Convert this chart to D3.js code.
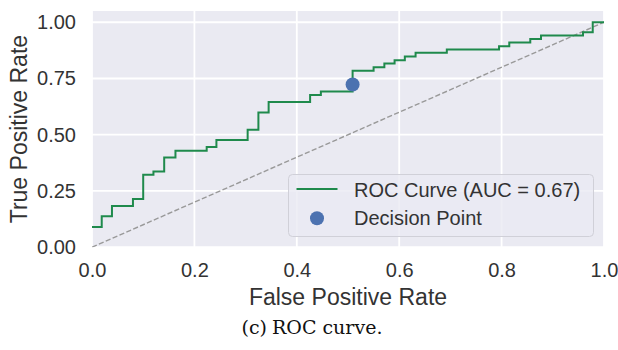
<!DOCTYPE html>
<html>
<head>
<meta charset="utf-8">
<script src="https://cdn.jsdelivr.net/npm/d3@7"></script>
<style>
  body { margin: 0; background: #fff; }
  text { font-family: "Liberation Sans", Arial, sans-serif; fill: #333; }
</style>
</head>
<body>
<div id="chart"></div>
<script>
// ROC step points
var fpr = [0, 0.019, 0.039, 0.080, 0.100, 0.120, 0.141, 0.163, 0.224, 0.243,
           0.304, 0.325, 0.345, 0.426, 0.447, 0.509, 0.550, 0.571, 0.591, 0.611,
           0.632, 0.693, 0.795, 0.815, 0.856, 0.877, 0.959, 0.978, 1.0];
var tpr = [0.090, 0.138, 0.183, 0.214, 0.322, 0.337, 0.399, 0.429, 0.445, 0.476,
           0.522, 0.599, 0.646, 0.677, 0.692, 0.784, 0.800, 0.817, 0.831, 0.848,
           0.864, 0.879, 0.893, 0.910, 0.925, 0.941, 0.956, 1.0, 1.0];
var decisionPoint = [0.509, 0.723];
var chance = [0, 1];
var xTicks = [0, 0.2, 0.4, 0.6, 0.8, 1.0];
var yTicks = [0, 0.25, 0.5, 0.75, 1.0];
var aucLabel = "ROC Curve (AUC = 0.67)";
var pointLabel = "Decision Point";

var W = 618, H = 350;
var pLeft = 92, pRight = 604, pTop = 11, pBottom = 247.2;

var svg = d3.select("#chart").append("svg")
  .attr("width", W).attr("height", H);

var x = d3.scaleLinear().domain([0, 1]).range([pLeft, pRight]);
var y = d3.scaleLinear().domain([0, 1.05]).range([pBottom, pTop]);

// background
svg.append("rect")
  .attr("x", pLeft).attr("y", pTop)
  .attr("width", pRight - pLeft).attr("height", pBottom - pTop)
  .style("fill", "#eaeaf2");

// grid
svg.append("g").selectAll("line").data(xTicks).enter().append("line")
  .attr("x1", d => x(d)).attr("x2", d => x(d))
  .attr("y1", pTop).attr("y2", pBottom)
  .style("stroke", "#fff").style("stroke-width", 1.8);
svg.append("g").selectAll("line").data(yTicks).enter().append("line")
  .attr("x1", pLeft).attr("x2", pRight)
  .attr("y1", d => y(d)).attr("y2", d => y(d))
  .style("stroke", "#fff").style("stroke-width", 1.8);

// axes (labels only, seaborn darkgrid has no spines)
var xAxis = svg.append("g")
  .attr("transform", "translate(0," + pBottom + ")")
  .call(d3.axisBottom(x).tickValues(xTicks).tickFormat(d3.format(".1f")).tickSize(0).tickPadding(16));
var yAxis = svg.append("g")
  .attr("transform", "translate(" + pLeft + ",0)")
  .call(d3.axisLeft(y).tickValues(yTicks).tickFormat(d3.format(".2f")).tickSize(0).tickPadding(16));
[xAxis, yAxis].forEach(function(a) {
  a.select(".domain").remove();
  a.selectAll("text").style("font-size", "20px").style("fill", "#333")
    .style("font-family", "'Liberation Sans', Arial, sans-serif");
});

var clip = svg.append("clipPath").attr("id", "clip").append("rect")
  .attr("x", pLeft).attr("y", pTop).attr("width", pRight - pLeft).attr("height", pBottom - pTop);
var plot = svg.append("g").attr("clip-path", "url(#clip)");

// chance line
plot.append("line")
  .attr("x1", x(chance[0])).attr("y1", y(chance[0]))
  .attr("x2", x(chance[1])).attr("y2", y(chance[1]))
  .style("stroke", "#999").style("stroke-width", 1.4)
  .style("stroke-dasharray", "5.2,2.3");

// ROC curve
var pts = fpr.map((f, i) => [f, tpr[i]]);
var line = d3.line().x(d => x(d[0])).y(d => y(d[1])).curve(d3.curveStepAfter);
plot.append("path").datum(pts)
  .attr("d", line)
  .style("fill", "none").style("stroke", "#1f8a4c").style("stroke-width", 2);

// decision point
svg.append("circle")
  .attr("cx", x(decisionPoint[0])).attr("cy", y(decisionPoint[1]))
  .attr("r", 7).style("fill", "#4c72b0");

// axis labels
svg.append("text")
  .attr("x", (pLeft + pRight) / 2).attr("y", 305)
  .attr("text-anchor", "middle")
  .style("font-size", "23px")
  .text("False Positive Rate");
svg.append("text")
  .attr("transform", "translate(26.5," + (pTop + pBottom) / 2 + ") rotate(-90)")
  .attr("text-anchor", "middle")
  .style("font-size", "23px")
  .text("True Positive Rate");

// legend
var lg = svg.append("g").attr("transform", "translate(288.5,174.5)");
lg.append("rect")
  .attr("width", 305).attr("height", 62).attr("rx", 4)
  .style("fill", "#eaeaf2").style("fill-opacity", 0.8)
  .style("stroke", "#d0d0d8").style("stroke-width", 1);
lg.append("line")
  .attr("x1", 8).attr("x2", 49).attr("y1", 14.5).attr("y2", 14.5)
  .style("stroke", "#1f8a4c").style("stroke-width", 2);
lg.append("circle")
  .attr("cx", 28.5).attr("cy", 43.8).attr("r", 7).style("fill", "#4c72b0");
lg.append("text").attr("x", 65.5).attr("y", 22.2)
  .style("font-size", "20px").text(aucLabel);
lg.append("text").attr("x", 65.5).attr("y", 50.8)
  .style("font-size", "20px").text(pointLabel);

// caption
svg.append("text").attr("x", 241.5).attr("y", 334)
  .style("font-family", "'DejaVu Serif', serif").style("font-size", "19px").style("fill", "#111")
  .text("(c)");
svg.append("text").attr("x", 272).attr("y", 334)
  .style("font-family", "'DejaVu Serif', serif").style("font-size", "19px").style("fill", "#111")
  .text("ROC curve.");
</script>
</body>
</html>
